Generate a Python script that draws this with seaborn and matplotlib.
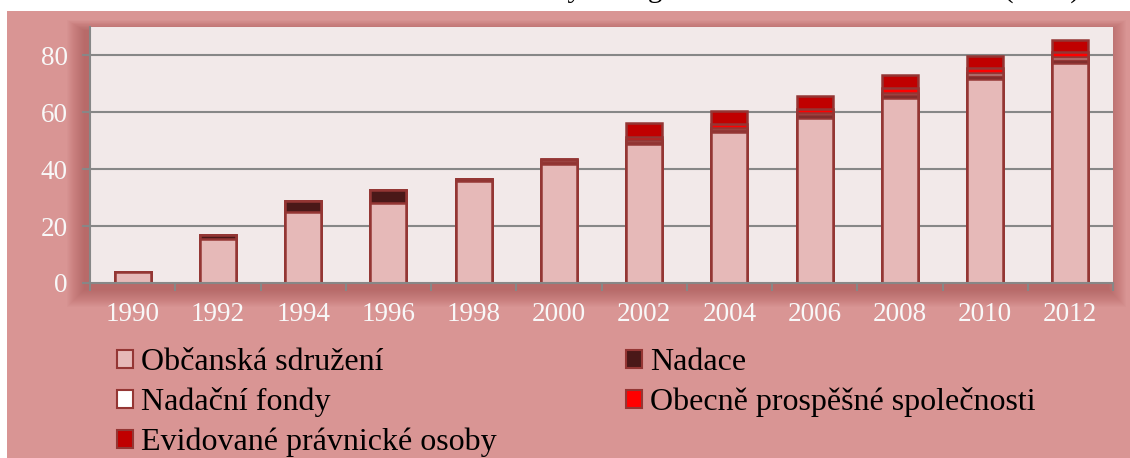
import matplotlib
matplotlib.use("Agg")
import matplotlib.pyplot as plt
import seaborn as sns
import numpy as np
from matplotlib.patches import Rectangle, Patch

# ---- data (thousands) ----
years = ["1990", "1992", "1994", "1996", "1998", "2000", "2002", "2004", "2006", "2008", "2010", "2012"]
obcanska = [4.0, 15.5, 25.0, 28.0, 36.0, 42.0, 49.0, 53.0, 58.0, 65.2, 71.8, 77.4]
nadace = [0.0, 1.5, 4.0, 4.6, 0.4, 0.5, 0.6, 0.8, 0.9, 1.0, 1.0, 1.0]
nadacni_fondy = [0.0, 0.0, 0.0, 0.0, 0.0, 0.8, 0.7, 0.8, 0.8, 0.7, 0.9, 0.9]
ops = [0.0, 0.0, 0.0, 0.0, 0.0, 0.3, 1.0, 1.2, 1.4, 1.5, 1.8, 1.9]
evidovane = [0.0, 0.0, 0.0, 0.0, 0.0, 0.0, 4.9, 4.8, 4.6, 4.6, 4.4, 4.4]

series_names = ["Občanská sdružení", "Nadace", "Nadační fondy",
                "Obecně prospěšné společnosti", "Evidované právnické osoby"]
series_vals = [obcanska, nadace, nadacni_fondy, ops, evidovane]
series_colors = ["#E6B9B8", "#4A1818", "#FFFFFF", "#FF0000", "#C00000"]
yticks = [0, 20, 40, 60, 80]
title = "Počet neziskových  organizací v letech 1990 – 2012 (v tis.)"

EDGE = "#943634"
GRID = "#878787"
FIG_BG = "#D99594"
AX_BG = "#F2E9E9"

W, H = 1130, 458
sns.set_theme(style="white")
plt.rcParams["font.family"] = ["Liberation Serif", "DejaVu Serif"]

fig = plt.figure(figsize=(W / 100, H / 100), dpi=100, facecolor="white")

def fx(px):
    return px / W

def fy(py):
    return 1 - py / H

# pink frame
fig.add_artist(Rectangle((fx(7), 0), 1 - fx(7), fy(11), transform=fig.transFigure,
                         facecolor=FIG_BG, edgecolor="none", zorder=-10))

# plot area
L, R, T, B = 90, 1113, 27, 283
# soft shadow around the plot area (offset down-left)
for i in range(18):
    g = 18 - i
    fig.add_artist(Rectangle((fx(L - 5 - g), fy(B + 6 + g)),
                             fx(R - L + 2 * g), fy(T + 4 - g * 0.6) - fy(B + 6 + g),
                             transform=fig.transFigure, facecolor="#A04848",
                             edgecolor="none", alpha=0.035, zorder=-9))

ax = fig.add_axes([fx(L), fy(B), fx(R - L), fy(T) - fy(B)])
ax.set_facecolor(AX_BG)

# cumulative stacks, drawn from top layer downward
cum = np.cumsum(np.array(series_vals), axis=0)
for k in range(len(series_vals) - 1, -1, -1):
    sns.barplot(x=years, y=cum[k], color=series_colors[k], edgecolor=EDGE,
                linewidth=1.8, width=0.42, saturation=1, ax=ax, zorder=3)

ax.set_ylim(0, 90)
ax.set_xlim(-0.5, len(years) - 0.5)
ax.set_yticks(yticks)
ax.set_xlabel("")
ax.set_ylabel("")
ax.grid(False)
for y in yticks[1:]:
    ax.axhline(y, color=GRID, lw=1.5, zorder=1)

for s in ["top", "right"]:
    ax.spines[s].set_visible(False)
for s in ["left", "bottom"]:
    ax.spines[s].set_color(GRID)
    ax.spines[s].set_linewidth(1.5)
    ax.spines[s].set_zorder(5)

ax.tick_params(axis="y", which="major", length=6, width=1.5, color=GRID,
               labelsize=19.5, labelcolor="#F8F8F8", pad=10, left=True)
ax.set_xticks(np.arange(-0.5, len(years)), minor=True)
ax.tick_params(axis="x", which="minor", length=6, width=1.5, color=GRID, bottom=True)
ax.tick_params(axis="x", which="major", length=0, labelsize=19.5,
               labelcolor="#F8F8F8", pad=14)

# legend
handles = [Patch(facecolor=c, edgecolor=EDGE, linewidth=1.5) for c in series_colors]
order = [0, 2, 4, 1, 3]
leg = fig.legend([handles[i] for i in order], [series_names[i] for i in order],
                 ncol=2, loc="upper left", bbox_to_anchor=(fx(117), fy(348)),
                 frameon=False, fontsize=23, handlelength=0.5, handleheight=0.5,
                 handletextpad=0.25, columnspacing=4.05, labelspacing=0.32,
                 borderpad=0, borderaxespad=0)
for t in leg.get_texts():
    t.set_color("black")

# clipped title (only descenders visible, as in the original)
fig.text(fx(1080), 1 + 3 / H, title, ha="right", va="baseline",
         fontsize=21, color="black")

fig.savefig("out.png", dpi=100, facecolor=fig.get_facecolor())
